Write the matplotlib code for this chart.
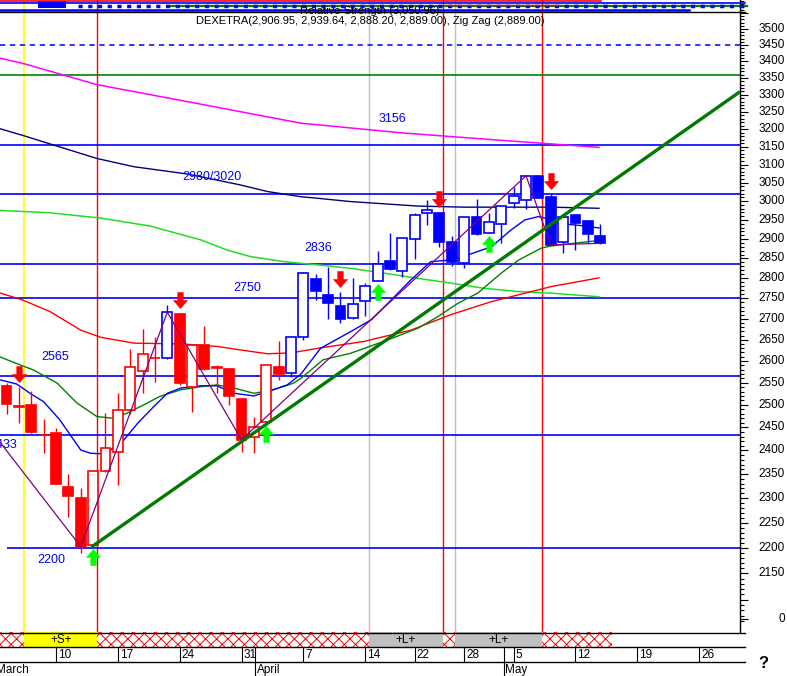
import matplotlib
matplotlib.use('Agg')
import matplotlib.pyplot as plt
import numpy as np
from matplotlib.patches import Rectangle
from matplotlib.path import Path
from matplotlib.ticker import FixedLocator, NullFormatter
from matplotlib.transforms import offset_copy

plt.rcParams['font.family'] = ['Liberation Sans', 'DejaVu Sans']
plt.rcParams['hatch.linewidth'] = 0.7

# daily DAX candles, index 0 = 4 March 2003 ... index 48 = 14 May 2003
opens = [2543, 2498, 2500, 2434, 2438, 2323, 2301, 2205, 2356, 2397,
         2489, 2578, 2606, 2608, 2712, 2541, 2638, 2586, 2582, 2513,
         2429, 2462, 2586, 2573, 2656, 2798, 2759, 2732, 2702, 2743,
         2793, 2844, 2819, 2901, 2969, 2969, 2893, 2838, 2957, 2915,
         2939, 2995, 3002, 3069, 3010, 2893, 2963, 2946, 2906.95]
highs = [2550, 2540, 2531, 2469, 2448, 2350, 2321, 2356, 2482, 2527,
         2628, 2676, 2656, 2734, 2714, 2640, 2683, 2591, 2585, 2515,
         2474, 2591, 2646, 2656, 2816, 2811, 2828, 2765, 2800, 2789,
         2870, 2917, 2902, 2968, 3003, 2971, 2908, 2957, 3005, 2969,
         2988, 3039, 3069, 3071, 3019, 2959, 2963, 2946, 2939.64]
lows = [2480, 2460, 2437, 2395, 2329, 2261, 2189, 2203, 2354, 2327,
        2480, 2527, 2552, 2605, 2545, 2483, 2580, 2527, 2500, 2397,
        2395, 2460, 2556, 2563, 2650, 2746, 2699, 2690, 2700, 2706,
        2792, 2821, 2804, 2848, 2937, 2880, 2831, 2825, 2911, 2915,
        2889, 2981, 2979, 3008, 2885, 2865, 2872, 2889, 2888.20]
closes = [2502, 2496, 2439, 2433, 2330, 2305, 2202, 2356, 2405, 2489,
          2586, 2617, 2607, 2716, 2549, 2638, 2581, 2585, 2521, 2423,
          2450, 2591, 2570, 2656, 2813, 2769, 2738, 2699, 2736, 2781,
          2835, 2824, 2902, 2963, 2977, 2893, 2840, 2957, 2912, 2944,
          2988, 3014, 3069, 3008, 2885, 2959, 2941, 2912, 2889.00]
candle_colors = ['#ff0000'] * 13 + ['#0000ff'] + ['#ff0000'] * 9 + ['#0000ff'] * 26

# moving averages, read at (day index, value) points
magenta_k = [-1, 1.5, 7.3, 15, 23.8, 32, 40, 43.2, 47.9]
magenta_v = [3414, 3392, 3330, 3277, 3217, 3189, 3168, 3160, 3148]
navy_k = [-1, 1.5, 3.5, 7.3, 10.3, 14.6, 18.9, 21.1, 23.8, 25.1, 27.8, 30.5, 33.2, 37, 44, 47.9]
navy_v = [3206, 3180, 3158, 3117, 3094, 3074, 3044, 3026, 3012, 3008, 2999, 2993, 2987, 2984, 2984, 2981]
lgreen_k = [-1, 3.5, 7.6, 11.6, 15.7, 17.8, 19.7, 22.4, 25.1, 27.8, 30.5, 33.2, 35.9, 38.6, 41.3, 44, 47.9]
lgreen_v = [2976, 2969, 2955, 2934, 2898, 2872, 2855, 2842, 2834, 2825, 2813, 2800, 2788, 2775, 2767, 2763, 2754]
red_k = [-1, 1.3, 3.5, 6.0, 7.6, 10.3, 14.3, 17.1, 18.9, 21.1, 23.0, 25.2, 28.9, 32.7, 35.9, 39.2, 44.0, 47.9]
red_v = [2768, 2746, 2718, 2673, 2656, 2642, 2640, 2634, 2626, 2617, 2619, 2630, 2646, 2673, 2710, 2742, 2779, 2801]
blue_k = [-1, 0.83, 1.9, 3.0, 4.3, 6.0, 6.8, 7.6, 8.4, 9.5, 10.6, 11.9, 13.0, 14.1, 15.7, 17.0,
          18.4, 20.0, 21.1, 22.7, 23.8, 25.4, 27.8, 29.5, 31.1, 32.7, 34.3, 35.9, 37.3, 39.2,
          40.8, 41.9, 43.0, 43.5, 44.9, 46.5, 47.9]
blue_v = [2560, 2547, 2526, 2507, 2467, 2401, 2394, 2393, 2401, 2423, 2459, 2496, 2526, 2538, 2543, 2543,
          2526, 2520, 2530, 2545, 2570, 2630, 2669, 2698, 2746, 2796, 2842, 2846, 2859, 2880,
          2924, 2950, 2959, 2955, 2940, 2935, 2929]
dgreen_k = [-1, 1.1, 2.2, 4.1, 5.7, 7.3, 8.7, 9.7, 11.1, 12.4, 14.1, 15.7, 17.0, 18.4, 20.0,
            21.6, 23.2, 23.8, 25.6, 27.8, 30.5, 33.3, 34.9, 36.5, 38.1, 40.0, 41.4, 43.2, 44.0, 47.5]
dgreen_v = [2615, 2591, 2579, 2549, 2504, 2474, 2470, 2481, 2500, 2519, 2534, 2541, 2545, 2538, 2526,
            2534, 2549, 2560, 2603, 2618, 2646, 2678, 2706, 2738, 2763, 2813, 2846, 2876, 2882, 2895]

zigzag_k = [-0.53, 6, 13, 19, 42, 44, 48]
zigzag_v = [2418, 2202, 2716, 2423, 3069, 2885, 2889]
trend_k = [6.85, 59.3]
trend_v = [2201, 3309]

levels = [3156, 3020, 2836, 2750, 2565, 2433]
level_labels = ['3156', '2980/3020', '2836', '2750', '2565']
label_k = [31.2, 16.6, 25.2, 19.5, 3.9]
label_v = [3229, 3066, 2877, 2776, 2610]
support = 2200
dashed_level = 3450
green_level = 3360

down_arrows = [1, 14, 27, 35, 44]
up_arrows = [7, 21, 30, 39]

vlines_k = [1.45, 7.32, 29.3, 35.3, 36.27, 43.3]
vlines_c = ['#ffff00', '#ff0000', '#c0c0c0', '#ff0000', '#c0c0c0', '#ff0000']

# signal strip segments (start, end, kind)
strip = [(-0.6, 1.45, 'x'), (1.45, 7.32, 'S'), (7.32, 29.3, 'x'), (29.3, 35.3, 'L'),
         (35.3, 36.27, 'x'), (36.27, 43.3, 'L'), (43.3, 48.95, 'x')]

date_k = [4, 9, 14, 19, 24, 29, 33, 37, 41, 46, 51, 56]
date_lab = ['10', '17', '24', '31', '7', '14', '22', '28', '5', '12', '19', '26']
month_k = [-1.0, 20.1, 40.2]
month_lab = ['March', 'April', 'May']

W, H = 787, 676
XL = (-0.5255, 59.30)


def box(x0, y0, x1, y1):
    return [x0 / W, 1 - y1 / H, (x1 - x0) / W, (y1 - y0) / H]


fig = plt.figure(figsize=(W / 100, H / 100), dpi=100)
ax = fig.add_axes(box(0, 0, 740, 632))
ax.set_yscale('log')
ax.set_ylim(2040, 3592)
ax.set_xlim(*XL)
for s in ['left', 'top', 'bottom']:
    ax.spines[s].set_visible(False)
ax.spines['right'].set_linewidth(1.0)
ax.set_xticks([])

majors = [2064] + list(range(2100, 3551, 50))
minors = [v for v in range(2050, 3591, 10) if v % 50 != 0]
ax.yaxis.tick_right()
ax.yaxis.set_major_locator(FixedLocator(majors))
ax.yaxis.set_minor_locator(FixedLocator(minors))
ax.yaxis.set_major_formatter(NullFormatter())
ax.yaxis.set_minor_formatter(NullFormatter())
ax.tick_params(axis='y', which='major', length=6, width=0.8)
ax.tick_params(axis='y', which='minor', length=3, width=0.8)
ytr = ax.get_yaxis_transform()
for v in range(2150, 3501, 50):
    ax.text(1.0608, v, str(v), transform=ytr, ha='right', va='center', fontsize=8.5, clip_on=False)
ax.text(1.0608, 2064, '0', transform=ytr, ha='right', va='center', fontsize=8.5, clip_on=False)

# vertical marker lines
for k, c in zip(vlines_k, vlines_c):
    ax.axvline(k, color=c, lw=1.2 if c == '#ffff00' else 1.0, zorder=1)

# horizontal levels
ax.axhline(dashed_level, color='#0000ff', lw=1.1, ls=(0, (3.5, 3)), zorder=2)
ax.axhline(green_level, color='#008000', lw=1.2, zorder=2)
for lv in levels:
    ax.axhline(lv, color='#0000ff', lw=1.2, zorder=2)
ax.hlines(support, 0, XL[1], color='#0000ff', lw=1.2, zorder=2)
for t, k, v in zip(level_labels, label_k, label_v):
    ax.text(k, v, t, color='#0000ff', fontsize=9, ha='center', va='center', zorder=6)
ax.text(0.85, 2412, '2433', color='#0000ff', fontsize=9, ha='right', va='center', zorder=6)
ax.text(3.6, 2176, '2200', color='#0000ff', fontsize=9, ha='center', va='center', zorder=6)

# moving averages
ax.plot(magenta_k, magenta_v, color='#ff00ff', lw=1.1, zorder=3)
ax.plot(navy_k, navy_v, color='#000080', lw=1.0, zorder=3)
ax.plot(lgreen_k, lgreen_v, color='#22dd22', lw=1.1, zorder=3)
ax.plot(red_k, red_v, color='#ff0000', lw=1.0, zorder=3)
ax.plot(dgreen_k, dgreen_v, color='#008000', lw=1.0, zorder=3)
ax.plot(blue_k, blue_v, color='#0000ff', lw=1.0, zorder=3)

# candles
for k in range(len(opens)):
    o, h, l, c, col = opens[k], highs[k], lows[k], closes[k], candle_colors[k]
    ax.vlines(k, l, h, color=col, lw=1.0, zorder=4)
    lo, hi = min(o, c), max(o, c)
    face = col if c < o else 'white'
    ax.add_patch(Rectangle((k - 0.4, lo), 0.8, hi - lo, facecolor=face,
                           edgecolor=col, lw=1.2, zorder=5))

ax.plot(zigzag_k, zigzag_v, color='#800080', lw=0.9, zorder=6)
ax.plot(trend_k, trend_v, color='#007a00', lw=2.4, zorder=6, solid_capstyle='butt')

# signal arrows
arrow = Path([(-0.17, 0.5), (0.17, 0.5), (0.17, 0.0), (0.44, 0.0), (0, -0.5),
              (-0.44, 0.0), (-0.17, 0.0), (-0.17, 0.5)], closed=True)
up = Path(arrow.vertices * [1, -1], closed=True)
tr_dn = offset_copy(ax.transData, fig=fig, y=9.7, units='points')
tr_up = offset_copy(ax.transData, fig=fig, y=-7.9, units='points')
for k in down_arrows:
    ax.plot(k, highs[k], marker=arrow, ms=11.5, color='#ff0000', mec='#ff0000',
            mew=0.4, transform=tr_dn, zorder=7, clip_on=False)
for k in up_arrows:
    ax.plot(k, lows[k], marker=up, ms=11.5, color='#00ff00', mec='#00ff00',
            mew=0.4, transform=tr_up, zorder=7, clip_on=False)

# signal strip
sax = fig.add_axes(box(0, 632, 740, 647))
sax.set_xlim(*XL)
sax.set_ylim(0, 1)
sax.axis('off')
for x0, x1, kind in strip:
    if kind == 'x':
        sax.add_patch(Rectangle((x0, 0), x1 - x0, 1, facecolor='white', edgecolor='#ff0000',
                                hatch='xxx', lw=0))
    else:
        fc = '#ffff00' if kind == 'S' else '#c0c0c0'
        sax.add_patch(Rectangle((x0, 0), x1 - x0, 1, facecolor=fc, lw=0))
        sax.text((x0 + x1) / 2, 0.45, '+%s+' % kind, ha='center', va='center', fontsize=8.5)

# date row
dax = fig.add_axes(box(0, 647, 740, 662))
dax.set_xlim(*XL)
dax.set_ylim(0, 1)
dax.axis('off')
dax.vlines(date_k, 0, 1, color='black', lw=0.8)
for k, t in zip(date_k, date_lab):
    dax.text(k + 0.15, 0.45, t, ha='left', va='center', fontsize=8.5)
dax.vlines(month_k[1:], 0, 1, color='black', lw=0.8)

max_ = fig.add_axes(box(0, 662, 740, 676))
max_.set_xlim(*XL)
max_.set_ylim(0, 1)
max_.axis('off')
max_.vlines(month_k[1:], 0, 1, color='black', lw=0.8)
for k, t in zip(month_k, month_lab):
    max_.text(k + 0.12, 0.4, t, ha='left', va='center', fontsize=8.5, clip_on=True)

# overlay for header and frame lines
ov = fig.add_axes([0, 0, 1, 1], facecolor='none')
ov.set_xlim(0, W)
ov.set_ylim(H, 0)
ov.axis('off')
ov.plot([0, 601], [0.7, 0.7], color='#ff0000', lw=1.2)
ov.plot([0, 745], [2.5, 2.5], color='#0000ff', lw=1.2)
ov.plot([167, 747], [5.5, 5.5], color='#008000', lw=1.6)
ov.plot([78, 745], [5.5, 5.5], color='#0000ff', lw=2.5, ls=(0, (1.2, 1.6)))
ov.plot([445, 560], [4.5, 4.5], color='#ff0000', lw=1.0)
ov.add_patch(Rectangle((38, 1), 28, 7, facecolor='#0000ff', lw=0))
ov.plot([0, 689], [10.3, 10.3], color='#0000ff', lw=1.8)
ov.plot([0, 745], [12.2, 12.2], color='black', lw=1.0)
ov.text(370, 10.5, 'Relative Strength (3,050.96)', ha='center', va='center', fontsize=8)
ov.text(370, 21, 'DEXETRA(2,906.95, 2,939.64, 2,888.20, 2,889.00), Zig Zag (2,889.00)',
        ha='center', va='center', fontsize=8)
for y in [632.5, 647, 661.8]:
    ov.plot([0, 745], [y, y], color='black', lw=1.0)
ov.text(763, 663, '?', ha='center', va='center', fontsize=12, fontweight='bold')

fig.savefig('out.png', dpi=100, facecolor='white')
